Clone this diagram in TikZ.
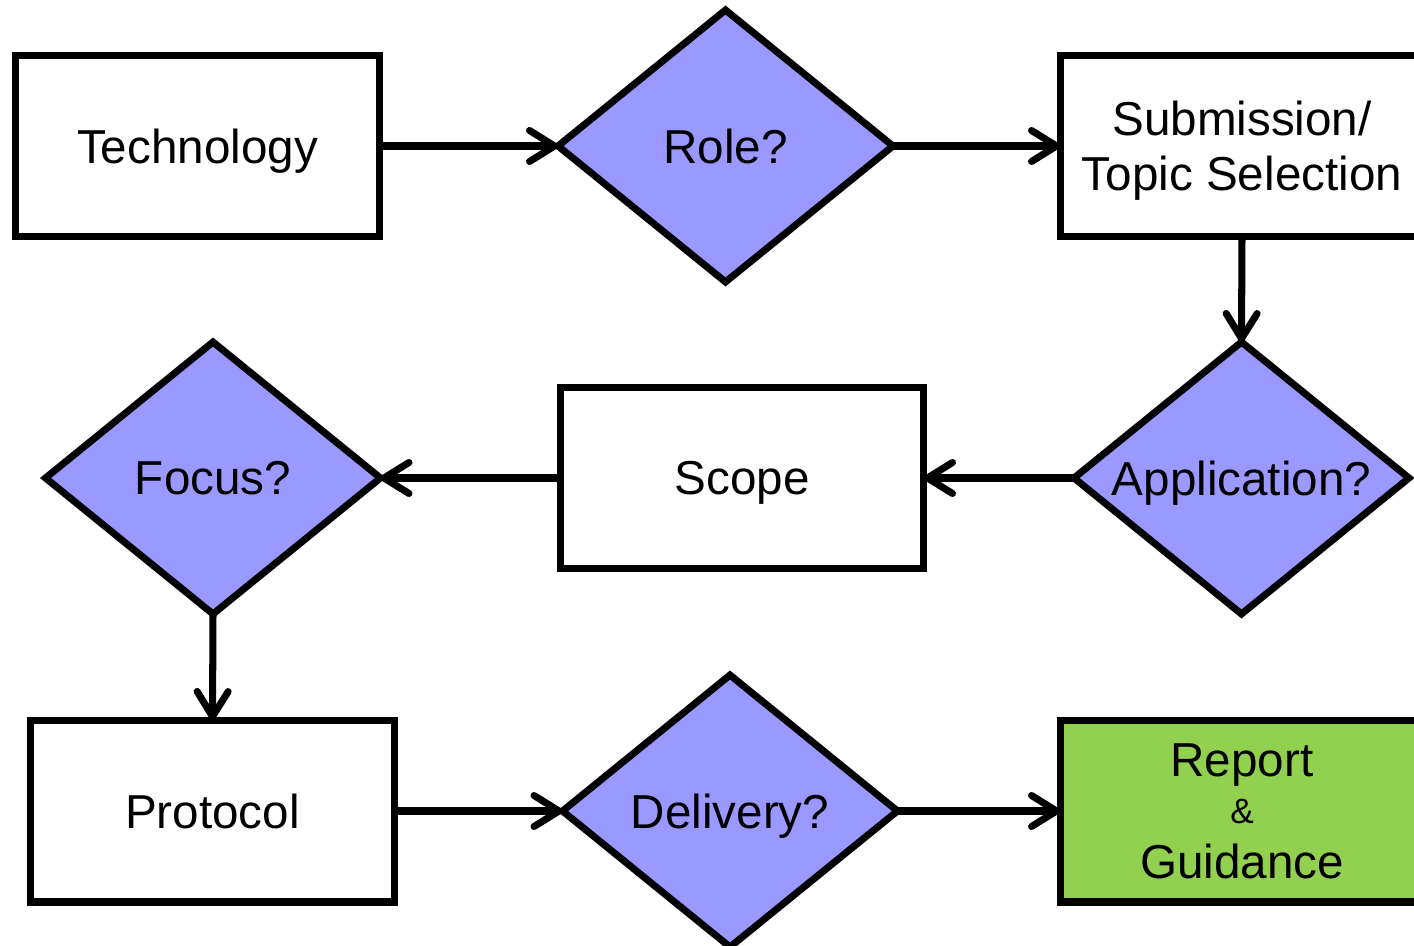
\documentclass[tikz,border=0pt]{standalone}
\usepackage{fontspec}
\setmainfont{Liberation Sans}
\usetikzlibrary{shapes.geometric,arrows.meta}

\definecolor{decfill}{RGB}{153,153,255}
\definecolor{endfill}{RGB}{146,208,80}

\begin{document}
\begin{tikzpicture}[
  x=0.02cm, y=-0.02cm,
  every node/.style={font=\fontsize{27.1}{26.7}\selectfont, inner sep=0pt, outer sep=0pt, text depth=0pt},
  stepbox/.style={draw, line width=4pt, rectangle, minimum width=7.28cm, minimum height=3.64cm, align=center},
  decision/.style={draw, line width=4pt, diamond, fill=decfill, minimum width=6.7cm, minimum height=5.44cm},
  flow/.style={line width=4pt, -{Straight Barb[length=0.5cm, width=0.62cm, line cap=round, line join=round]}}
]
\clip (0,0) rectangle (1414,946);

% first row
\node[stepbox] (tech) at (197.5,146) {Technology};
\node[decision] (role) at (725.5,146) {\makebox[0pt]{Role?}};
\node[stepbox] (sub) at (1242,146) {Submission/\\[0.16cm]Topic Selection};

% second row
\node[decision] (app) at (1241.5,478) {\makebox[0pt]{Application?}};
\node[stepbox] (scope) at (742,478) {Scope};
\node[decision] (focus) at (213,478) {\makebox[0pt]{Focus?}};

% third row
\node[stepbox] (proto) at (212.5,811) {Protocol};
\node[decision] (deliv) at (730,811) {\makebox[0pt]{Delivery?}};
\node[stepbox, fill=endfill] (report) at (1242,811)
  {Report\\{\fontsize{20}{20}\selectfont \&}\\[0.16cm]Guidance};

% connectors
\draw[flow] (tech.east) -- (role.west);
\draw[flow] (role.east) -- (sub.west);
\draw[flow] (sub.south) -- (app.north);
\draw[flow] (app.west) -- (scope.east);
\draw[flow] (scope.west) -- (focus.east);
\draw[flow] (focus.south) -- (proto.north);
\draw[flow] (proto.east) -- (deliv.west);
\draw[flow] (deliv.east) -- (report.west);
\end{tikzpicture}
\end{document}
